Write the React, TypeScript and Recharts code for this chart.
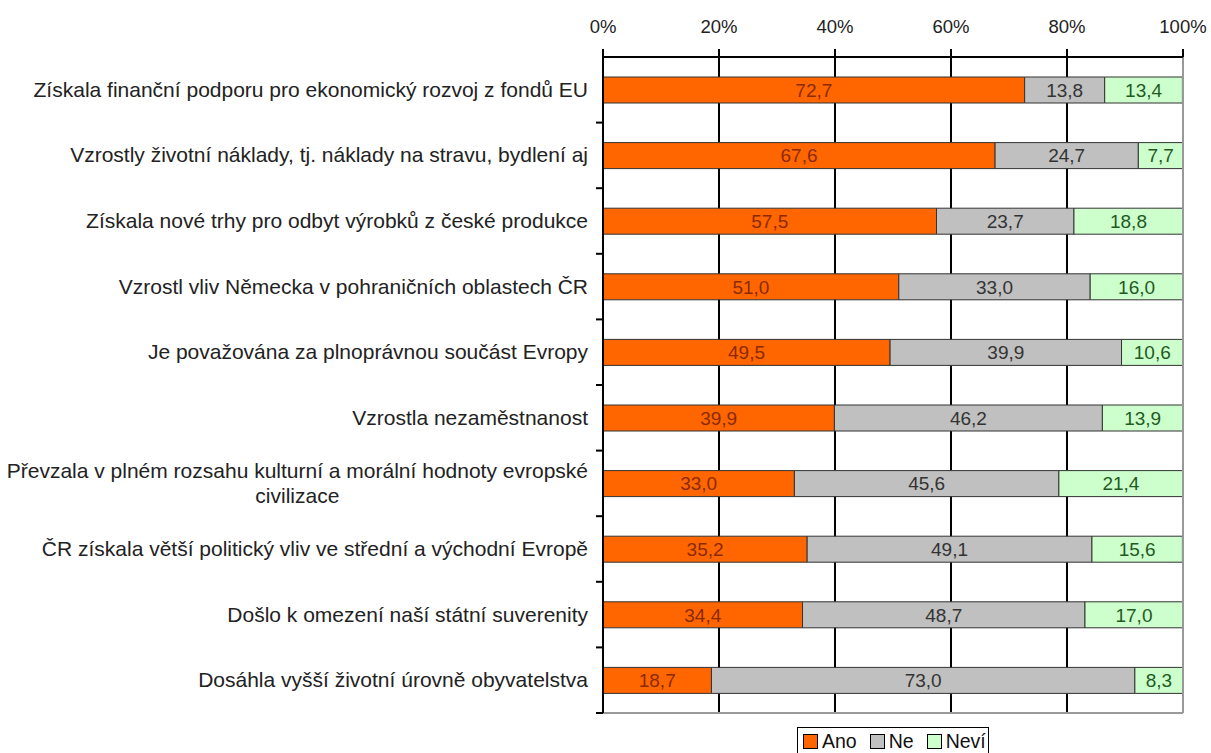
import React from 'react'
import {
  BarChart, Bar, XAxis, YAxis, CartesianGrid, LabelList, ReferenceLine,
} from 'recharts'

// otázky (kategorie) a podíly odpovědí v %
const categories = [
  'Získala finanční podporu pro ekonomický rozvoj z fondů EU',
  'Vzrostly životní náklady, tj. náklady na stravu, bydlení aj',
  'Získala nové trhy pro odbyt výrobků z české produkce',
  'Vzrostl vliv Německa v pohraničních oblastech ČR',
  'Je považována za plnoprávnou součást Evropy',
  'Vzrostla nezaměstnanost',
  'Převzala v plném rozsahu kulturní a morální hodnoty evropské\ncivilizace',
  'ČR získala větší politický vliv ve střední a východní Evropě',
  'Došlo k omezení naší státní suverenity',
  'Dosáhla vyšší životní úrovně obyvatelstva',
]
const ano = [72.7, 67.6, 57.5, 51.0, 49.5, 39.9, 33.0, 35.2, 34.4, 18.7]
const ne = [13.8, 24.7, 23.7, 33.0, 39.9, 46.2, 45.6, 49.1, 48.7, 73.0]
const nevi = [13.4, 7.7, 18.8, 16.0, 10.6, 13.9, 21.4, 15.6, 17.0, 8.3]
const xTicks = [0, 20, 40, 60, 80, 100]

const data = categories.map((name, i) => ({ name, ano: ano[i], ne: ne[i], nevi: nevi[i] }))

const W = 1211
const H = 753
const X_H = 30
const M = { top: 57 - X_H, right: 28, bottom: 39, left: 0 }
const AXIS_W = 603
const BAND = (H - 57 - 40) / categories.length
const FONT = '"Liberation Sans", Arial, sans-serif'
const CAT_FS = 21

const fmt = (v: any) => Number(v).toFixed(1).replace('.', ',')

const measure = (s: string, size: number) => {
  const c = document.createElement('canvas').getContext('2d')
  if (!c) return s.length * size * 0.5
  c.font = `${size}px ${FONT}`
  return c.measureText(s).width
}

const CatTick = (props: any) => {
  const { x, y, payload } = props
  const lines = String(payload.value).split('\n')
  const right = x - 15
  let content
  if (lines.length === 1) {
    content = (
      <text x={right} y={y} dy={7} textAnchor="end" fontSize={CAT_FS} fill="#222" fontFamily={FONT}>
        {lines[0]}
      </text>
    )
  } else {
    const cx = right - measure(lines[0], CAT_FS) / 2
    content = (
      <text x={cx} y={y} textAnchor="middle" fontSize={CAT_FS} fill="#222" fontFamily={FONT}>
        {lines.map((l, i) => (
          <tspan key={i} x={cx} y={y - 12.5 * (lines.length - 1) + 25 * i} dy={7}>{l}</tspan>
        ))}
      </text>
    )
  }
  return (
    <g>
      {content}
      <line x1={x - 7} x2={x} y1={y + BAND / 2} y2={y + BAND / 2} stroke="#000" strokeWidth={2} />
    </g>
  )
}

const LegendBox = () => {
  const item = (color: string, label: string, last?: boolean) => (
    <span style={{ display: 'inline-flex', alignItems: 'center', marginRight: last ? 0 : 13 }}>
      <span style={{ display: 'inline-block', width: 13, height: 13, background: color, border: '1px solid #000', marginRight: 4 }} />
      {label}
    </span>
  )
  return (
    <div style={{
      position: 'absolute', left: 797, top: 727, width: 192, height: 30,
      border: '1.5px solid #000', fontFamily: FONT, fontSize: 19.5, color: '#111',
      display: 'flex', alignItems: 'flex-start', paddingLeft: 5, paddingTop: 3, lineHeight: '20px',
      boxSizing: 'border-box', background: '#fff', whiteSpace: 'nowrap',
    }}>
      {item('#FF6600', 'Ano')}
      {item('#C0C0C0', 'Ne')}
      {item('#CCFFCC', 'Neví', true)}
    </div>
  )
}

export default function App() {
  return (
    <div style={{ position: 'absolute', left: 0, top: 0, width: W, height: H, background: '#fff', overflow: 'hidden' }}>
      <BarChart width={W} height={H} data={data} layout="vertical" margin={M} barCategoryGap={0}>
        <CartesianGrid horizontal={false} stroke="#000" strokeWidth={2} />
        <XAxis
          type="number" orientation="top" domain={[0, 100]} ticks={xTicks} height={X_H}
          tickFormatter={(v) => `${v}%`} axisLine={{ stroke: '#000', strokeWidth: 2 }}
          tickLine={{ stroke: '#000', strokeWidth: 2 }}
          tickSize={8} tickMargin={16} interval={0} allowDataOverflow
          tick={{ fontSize: 18.5, fill: '#222', fontFamily: FONT }}
        />
        <XAxis xAxisId="b" type="number" orientation="bottom" domain={[0, 100]} height={1}
          tick={false} tickLine={false} axisLine={{ stroke: '#999', strokeWidth: 2 }} />
        <YAxis
          type="category" dataKey="name" width={AXIS_W} interval={0}
          axisLine={{ stroke: '#000', strokeWidth: 2 }} tickLine={false} tickSize={0} tickMargin={0}
          tick={<CatTick />}
        />
        <ReferenceLine x={100} stroke="#999" strokeWidth={2} />
        <Bar dataKey="ano" stackId="a" fill="#FF6600" stroke="#333" barSize={26} isAnimationActive={false}>
          <LabelList dataKey="ano" position="center" formatter={fmt} fill="#8B2A00" fontSize={19} fontFamily={FONT} />
        </Bar>
        <Bar dataKey="ne" stackId="a" fill="#C0C0C0" stroke="#333" barSize={26} isAnimationActive={false}>
          <LabelList dataKey="ne" position="center" formatter={fmt} fill="#333" fontSize={19} fontFamily={FONT} />
        </Bar>
        <Bar dataKey="nevi" stackId="a" fill="#CCFFCC" stroke="#333" barSize={26} isAnimationActive={false}>
          <LabelList dataKey="nevi" position="center" formatter={fmt} fill="#1F5A1F" fontSize={19} fontFamily={FONT} />
        </Bar>
      </BarChart>
      <LegendBox />
    </div>
  )
}
